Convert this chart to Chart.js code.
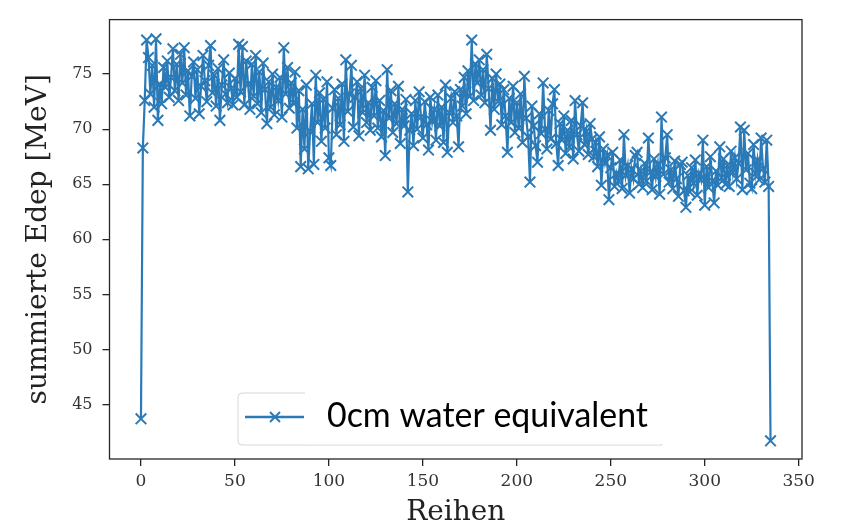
<!DOCTYPE html>
<html>
<head>
<meta charset="utf-8">
<script src="https://cdn.jsdelivr.net/npm/chart.js@4.4.1/dist/chart.umd.min.js"></script>
<style>
  html, body { margin: 0; padding: 0; background: #fff; }
  #wrap { width: 841px; height: 530px; }
</style>
</head>
<body>
<div id="wrap"><canvas id="grafica" width="841" height="530"></canvas></div>
<script>
// summierte Edep pro Reihe (0cm water equivalent)
const edep = [
  43.7, 68.3, 72.6, 78.1, 76.5, 73.2, 75.8, 72.0, 78.2, 70.8,
  74.1, 72.3, 75.6, 73.8, 76.2, 72.9, 74.7, 77.3, 73.5, 75.9,
  72.6, 76.8, 74.2, 77.4, 73.1, 75.3, 71.2, 74.8, 76.1, 72.8,
  75.4, 71.4, 73.9, 76.7, 74.4, 72.5, 75.8, 77.6, 73.3, 74.9,
  72.1, 75.5, 70.8, 74.0, 76.3, 73.2, 72.4, 75.1, 73.7, 72.2,
  74.6, 72.9, 77.7, 73.4, 77.5, 72.2, 76.2, 74.1, 71.8, 75.9,
  73.0, 76.7, 72.3, 75.2, 71.5, 76.0, 73.6, 70.5, 74.3, 72.0,
  75.0, 71.3, 73.8, 72.6, 74.7, 71.1, 77.4, 73.2, 75.6, 71.9,
  74.2, 72.4, 75.2, 70.1, 73.5, 66.6, 71.8, 68.2, 74.0, 66.4,
  69.8, 72.3, 66.8, 74.9, 70.6, 73.3, 68.9, 72.7, 70.1, 74.3,
  67.4, 66.7, 71.9, 73.6, 69.5, 72.8, 70.4, 74.1, 68.9, 76.3,
  71.6, 73.2, 75.8, 70.2, 72.9, 74.3, 69.4, 73.7, 71.5, 74.9,
  70.6, 72.4, 69.9, 73.8, 71.2, 74.4, 70.1, 72.6, 69.3, 71.7,
  67.6, 75.4, 71.0, 73.5, 69.7, 72.3, 70.5, 73.9, 68.7, 71.8,
  70.3, 72.7, 64.3, 69.9, 71.4, 68.5, 72.6, 70.0, 73.4, 71.1,
  69.2, 72.5, 70.4, 68.1, 72.9, 70.7, 71.8, 69.0, 73.1, 70.3,
  72.0, 68.8, 74.0, 67.9, 71.5, 72.8, 70.6, 73.4, 71.2, 68.4,
  73.6, 72.1, 74.7, 71.4, 75.3, 73.0, 78.1, 72.6, 75.9, 74.2,
  76.3, 73.1, 75.4, 72.4, 76.8, 73.7, 69.9, 74.6, 71.8, 75.0,
  72.5, 74.1, 70.4, 73.6, 71.2, 67.9, 72.8, 70.6, 73.9, 69.7,
  72.4, 70.1, 73.2, 68.8, 74.8, 71.0, 69.3, 65.2, 72.1, 70.3,
  68.5, 67.0, 71.4, 69.6, 74.2, 70.0, 68.2, 71.7, 69.1, 72.3,
  73.6, 68.7, 66.7, 70.5, 69.0, 71.2, 67.8, 69.9, 68.4, 70.8,
  67.3, 72.6, 69.5, 68.0, 70.3, 72.4, 68.6, 69.8, 67.7, 70.5,
  69.1, 67.5, 68.8, 66.6, 69.3, 64.9, 68.2, 66.9, 67.6, 63.6,
  66.5, 67.9, 64.8, 66.0, 65.3, 67.2, 64.6, 69.5, 65.8, 66.7,
  64.2, 66.4, 65.5, 67.6, 67.9, 65.0, 66.2, 64.7, 66.9, 65.3,
  69.2, 66.1, 64.5, 67.3, 65.7, 66.8, 64.1, 71.1, 65.9, 67.4,
  69.5, 65.2, 66.3, 64.6, 67.1, 65.5, 63.9, 66.8, 67.0, 64.4,
  62.9, 65.8, 64.3, 66.5, 65.1, 67.2, 64.0, 66.0, 65.4, 69.0,
  63.1, 66.6, 64.7, 67.5, 65.3, 63.3, 66.2, 64.9, 68.4, 65.6,
  67.3, 65.0, 66.7, 64.8, 68.0, 66.1, 67.4, 65.5, 66.9, 70.2,
  64.5, 69.9, 66.3, 67.8, 65.1, 64.6, 68.6, 66.0, 67.2, 65.4,
  69.2, 66.4, 65.2, 69.0, 64.8, 41.7
];
// Reihennummer = Index
const reihen = edep.map((v, i) => i);

const xTicks = [0, 50, 100, 150, 200, 250, 300, 350];
const yTicks = [45, 50, 55, 60, 65, 70, 75];
const serieLabel = "0cm water equivalent";

const azul = '#2a7ab8';
const fuenteEje = "'DejaVu Serif', serif";

// marco completo + leyenda tapada
const marcoPlugin = {
  id: 'marco',
  afterDraw(chart) {
    const { ctx, chartArea: a } = chart;
    ctx.save();
    ctx.strokeStyle = '#262626';
    ctx.lineWidth = 1.3;
    ctx.strokeRect(a.left, a.top, a.right - a.left, a.bottom - a.top);

    // caja de la leyenda
    const lx = 238, ly = 393, lw = 424, lh = 52, r = 4;
    ctx.fillStyle = '#fff';
    ctx.strokeStyle = '#d6d6d6';
    ctx.lineWidth = 1;
    ctx.beginPath();
    ctx.moveTo(lx + r, ly);
    ctx.lineTo(lx + lw, ly);
    ctx.lineTo(lx + lw, ly + lh);
    ctx.lineTo(lx + r, ly + lh);
    ctx.arcTo(lx, ly + lh, lx, ly + lh - r, r);
    ctx.lineTo(lx, ly + r);
    ctx.arcTo(lx, ly, lx + r, ly, r);
    ctx.closePath();
    ctx.fill();
    ctx.stroke();
    // recuadro blanco pegado encima
    ctx.fillStyle = '#fff';
    ctx.fillRect(305, 389, 360, 55);
    ctx.strokeStyle = '#efefef';
    ctx.beginPath();
    ctx.moveTo(305, 444.5);
    ctx.lineTo(660, 444.5);
    ctx.stroke();

    // muestra de linea con marcador x
    ctx.strokeStyle = azul;
    ctx.lineWidth = 2.4;
    ctx.beginPath();
    ctx.moveTo(245, 417);
    ctx.lineTo(304, 417);
    ctx.stroke();
    ctx.lineWidth = 2;
    ctx.beginPath();
    ctx.moveTo(270, 412); ctx.lineTo(280, 422);
    ctx.moveTo(280, 412); ctx.lineTo(270, 422);
    ctx.stroke();

    // texto
    let size = 34;
    ctx.font = size + "px Lato, 'Open Sans', sans-serif";
    const w = ctx.measureText(serieLabel).width;
    size = size * 321 / w;
    ctx.font = size.toFixed(1) + "px Lato, 'Open Sans', sans-serif";
    ctx.fillStyle = '#000';
    ctx.textBaseline = 'alphabetic';
    ctx.textAlign = 'left';
    ctx.fillText(serieLabel, 327, 427);
    ctx.restore();
  }
};

new Chart(document.getElementById('grafica'), {
  type: 'line',
  data: {
    labels: reihen,
    datasets: [{
      label: serieLabel,
      data: reihen.map((r, i) => ({ x: r, y: edep[i] })),
      borderColor: azul,
      backgroundColor: azul,
      borderWidth: 2.2,
      pointStyle: 'crossRot',
      pointRadius: 7.5,
      pointBorderWidth: 2,
      pointBorderColor: azul,
      tension: 0,
      fill: false
    }]
  },
  options: {
    responsive: false,
    animation: false,
    events: [],
    layout: { padding: { left: 0, top: 6, right: 39, bottom: 0 } },
    plugins: {
      legend: { display: false },
      tooltip: { enabled: false }
    },
    scales: {
      x: {
        type: 'linear',
        min: -16.75,
        max: 351.75,
        afterBuildTicks: (s) => { s.ticks = xTicks.map(v => ({ value: v })); },
        afterFit: (s) => { s.height = 71; },
        grid: { drawOnChartArea: false, drawTicks: true, tickLength: 7, color: '#262626', lineWidth: 1.3 },
        border: { display: false },
        ticks: { color: '#333', font: { family: fuenteEje, size: 17 }, padding: 5, maxRotation: 0, autoSkip: false },
        title: { display: true, text: 'Reihen', color: '#222', font: { family: fuenteEje, size: 28 }, padding: { top: 0, bottom: 0 } }
      },
      y: {
        min: 40.05,
        max: 79.95,
        afterBuildTicks: (s) => { s.ticks = yTicks.map(v => ({ value: v })); },
        afterFit: (s) => { s.width = 109.5; },
        grid: { drawOnChartArea: false, drawTicks: true, tickLength: 7, color: '#262626', lineWidth: 1.3 },
        border: { display: false },
        ticks: { color: '#333', font: { family: fuenteEje, size: 16 }, padding: 10 },
        title: { display: true, text: 'summierte Edep [MeV]', color: '#222', font: { family: fuenteEje, size: 28 }, padding: { top: 22, bottom: 0 } }
      }
    }
  },
  plugins: [marcoPlugin]
});
</script>
</body>
</html>
